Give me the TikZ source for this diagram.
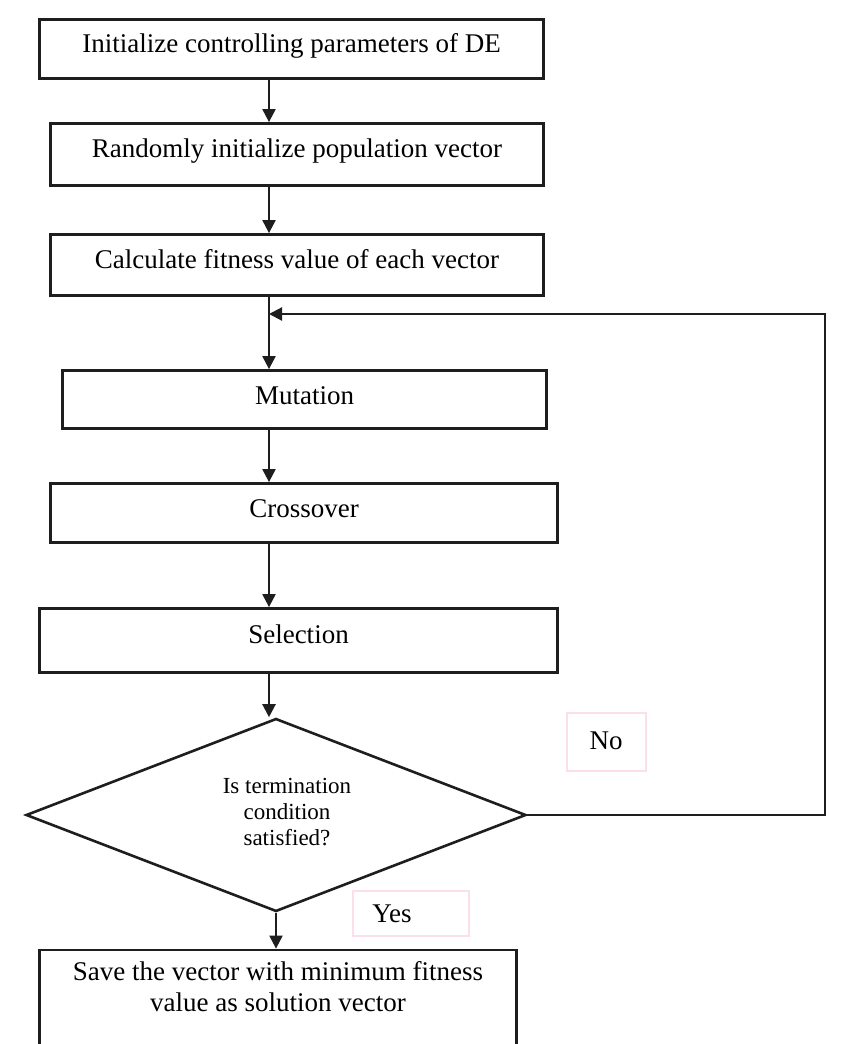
\documentclass[tikz,border=0pt]{standalone}
\usepackage{fontspec}
\setmainfont{Liberation Serif}
\usetikzlibrary{arrows.meta,shapes.geometric}
\definecolor{pinkline}{RGB}{252,222,236}
\definecolor{ink}{RGB}{30,30,30}
\begin{document}
\begin{tikzpicture}[x=1pt,y=-1pt,
  stepbox/.style={draw=ink, line width=2.8pt, inner sep=0pt,
    font=\fontsize{27}{31}\selectfont, text height=21pt, text depth=15pt},
  lowbox/.style={stepbox, text height=22.5pt, text depth=13.5pt},
  decbox/.style={draw=ink, line width=2.6pt, diamond, inner sep=0pt},
  dectext/.style={align=center, inner sep=0pt, font=\fontsize{23}{26}\selectfont},
  tagbox/.style={draw=pinkline, line width=1.6pt, inner sep=0pt},
  tagtext/.style={inner sep=0pt, font=\fontsize{27}{31}\selectfont},
  conn/.style={draw=ink, line width=2.2pt},
  arr/.style={conn, -{Triangle[width=13pt,length=13pt]}}]
\useasboundingbox (0,0) rectangle (865,1044);
\coordinate (spine) at (269,0);
\node[stepbox, minimum width=504pt, minimum height=59pt] (b1) at (291.5,49) {Initialize controlling parameters of DE};
\node[stepbox, minimum width=493pt, minimum height=62pt] (b2) at (297,154.5) {Randomly initialize population vector};
\node[stepbox, minimum width=493pt, minimum height=61pt] (b3) at (297,265) {Calculate fitness value of each vector};
\node[lowbox, minimum width=484pt, minimum height=58pt] (mut) at (304.5,399.5) {Mutation};
\node[lowbox, minimum width=507pt, minimum height=59pt] (cro) at (304,513) {Crossover};
\node[stepbox, minimum width=518pt, minimum height=64pt] (sel) at (298.5,640.5) {Selection};
\node[decbox, minimum width=500pt, minimum height=193pt] (dec) at (276,815) {};
\node[dectext] (dectxt) at (287,812) {Is termination\\condition\\satisfied?};
\node[draw=ink, line width=2.8pt, inner sep=0pt, minimum width=477pt, minimum height=100pt] (save) at (278,1000) {};
\node[align=center, inner sep=0pt, font=\fontsize{27}{31}\selectfont] (savetext) at (278,987) {Save the vector with minimum fitness\\value as solution vector};
\node[tagbox, minimum width=79pt, minimum height=58pt] (nobox) at (606.5,742) {};
\node[tagtext] (notext) at (606,741) {No};
\node[tagbox, minimum width=116pt, minimum height=45pt] (yesbox) at (411,913.5) {};
\node[tagtext] (yestext) at (392,914) {Yes};
\coordinate (loopc) at (825,314);
\draw[arr] (b1.south -| spine) -- (b2.north -| spine);
\draw[arr] (b2.south -| spine) -- (b3.north -| spine);
\draw[arr] (b3.south -| spine) -- (mut.north -| spine);
\draw[arr] (mut.south -| spine) -- (cro.north -| spine);
\draw[arr] (cro.south -| spine) -- (sel.north -| spine);
\draw[arr] (sel.south -| spine) -- (dec.north -| spine);
\draw[arr] (dec.south) -- (save.north -| dec.south);
\draw[arr] (dec.east) -| (loopc) -- (loopc -| spine);
\end{tikzpicture}
\end{document}
